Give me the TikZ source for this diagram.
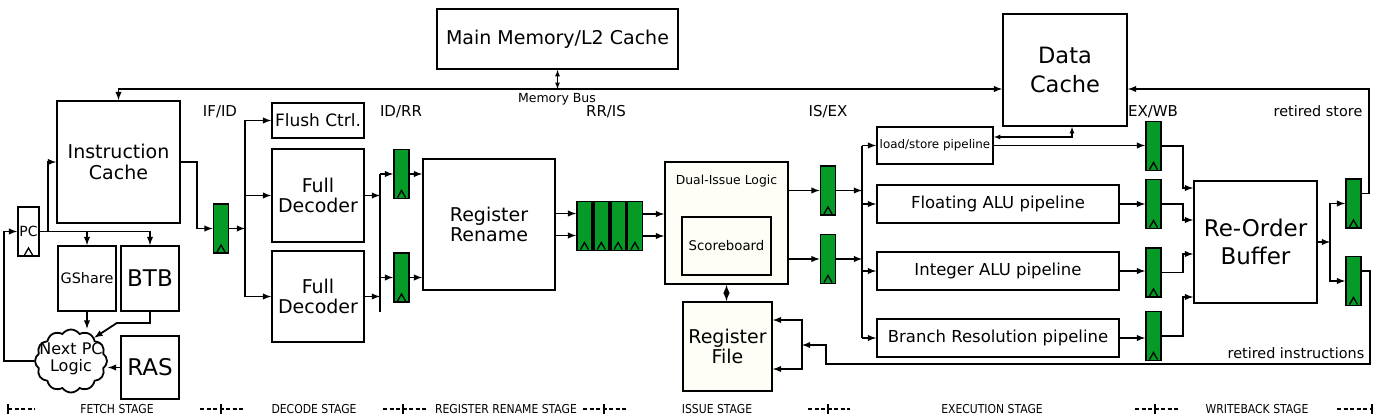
\documentclass[tikz,border=0pt]{standalone}
\usepackage{fontspec}
\setmainfont{DejaVu Sans}
\newfontfamily\stagefont{DejaVu Sans}[FakeStretch=0.88]
\usetikzlibrary{arrows,positioning,shapes.symbols}
\definecolor{latchgreen}{RGB}{6,154,38}
\definecolor{issuefill}{RGB}{254,254,247}

\tikzset{
  block/.style={draw, fill=white, align=center, inner sep=0pt},
  latch/.style={draw, fill=latchgreen, minimum width=15, minimum height=49, inner sep=0pt,
    path picture={\draw[line width=1.3pt]
      ([xshift=-4pt,yshift=1pt]path picture bounding box.south) --
      ([yshift=8pt]path picture bounding box.south) --
      ([xshift=4pt,yshift=1pt]path picture bounding box.south);}},
  pipe/.style={block, minimum width=242, minimum height=38, font=\fontsize{16.5}{19}\selectfont},
  txtbig/.style={font=\fontsize{19}{20.5}\selectfont},
  txthuge/.style={font=\fontsize{23}{28}\selectfont},
  txtreg/.style={font=\fontsize{15}{18}\selectfont},
  txtnote/.style={font=\fontsize{14.4}{17}\selectfont},
  stagetxt/.style={font=\stagefont\fontsize{12.3}{14}\selectfont},
  stagedash/.style={line width=1.3pt, dash pattern=on 4pt off 2.5pt},
}

\begin{document}
\begin{tikzpicture}[x=1pt, y=-1pt, >=latex, line width=1.8pt]
\useasboundingbox (0,0) rectangle (1379,420);

% memory side
\node[block, txtbig, minimum width=241, minimum height=60] (mem) at (557.5,39) {Main Memory/L2 Cache};
\node[block, font=\fontsize{22.5}{29}\selectfont, minimum width=124, minimum height=112] (dcache) at (1065,70) {Data\\Cache};
\coordinate (bus) at (0,89);

% fetch
\node[block, txtbig, minimum width=123, minimum height=122] (icache) at (118.5,162) {Instruction\\Cache};
\node[latch, fill=white, minimum width=21, font=\fontsize{14}{16}\selectfont] (pc) at (28.5,231.5) {PC};
\node[block, txtnote, minimum width=58, minimum height=65] (gshare) at (87,278.5) {GShare};
\node[block, txthuge, minimum width=58, minimum height=65] (btb) at (150,278.5) {BTB};
\node[block, txthuge, minimum width=58, minimum height=63] (ras) at (150,367.5) {RAS};
\node[cloud, draw, fill=white, cloud puffs=12, cloud puff arc=110, aspect=1.1,
      minimum width=72, minimum height=63, inner sep=0pt, font=\fontsize{16}{17}\selectfont]
      (nextpc) at (71,361) {\makebox[0pt]{\smash{\raisebox{-3pt}{\begin{tabular}{@{}c@{}}Next PC\\Logic\end{tabular}}}}};
\node[latch] (ifid) at (221,228.5) {};

% decode
\node[block, font=\fontsize{17}{19}\selectfont, minimum width=92, minimum height=35] (flush) at (318,120.5) {Flush Ctrl.};
\node[block, txtbig, minimum width=92, minimum height=93] (dec1) at (318,195.5) {Full\\Decoder};
\node[block, txtbig, minimum width=92, minimum height=91] (dec2) at (318,296.5) {Full\\Decoder};
\node[latch] (idrr1) at (401.5,174) {};
\node[latch] (idrr2) at (401.5,277.5) {};

% rename
\node[block, txtbig, minimum width=132, minimum height=131] (rename) at (489,224.5) {Register\\Rename};
\node[latch] (rris1) at (584.5,226) {};
\node[latch, right=0pt of rris1] (rris2) {};
\node[latch, right=0pt of rris2] (rris3) {};
\node[latch, right=0pt of rris3] (rris4) {};

% issue
\node[block, fill=issuefill, minimum width=123, minimum height=122,
      label={[label distance=-27pt, inner sep=0pt, font=\fontsize{12.4}{14}\selectfont]north:Dual-Issue Logic}]
      (dual) at (726.5,223) {};
\node[block, fill=issuefill, font=\fontsize{13.3}{15}\selectfont, minimum width=89, minimum height=58] (score) at (726.5,246) {Scoreboard};
\node[block, fill=issuefill, txtbig, minimum width=89, minimum height=89] (regfile) at (727.5,346.5) {Register\\File};
\node[latch] (isex1) at (828,190.5) {};
\node[latch] (isex2) at (828,259) {};

% execute
\node[block, font=\fontsize{11.9}{14}\selectfont, minimum width=116, minimum height=37] (ls) at (935,145.5) {load/store pipeline};
\node[pipe] (fp) at (998,204) {Floating ALU pipeline};
\node[pipe] (int) at (998,271) {Integer ALU pipeline};
\node[pipe] (br) at (998,338) {Branch Resolution pipeline};
\node[latch] (exwb1) at (1153.5,146) {};
\node[latch] (exwb2) at (1153.5,204) {};
\node[latch] (exwb3) at (1153.5,272.5) {};
\node[latch] (exwb4) at (1153.5,336) {};

% writeback
\node[block, txthuge, minimum width=123, minimum height=122] (rob) at (1255.5,242) {Re-Order\\Buffer};
\node[latch] (wb1) at (1353.5,203.5) {};
\node[latch] (wb2) at (1353.5,281) {};

% pipeline register labels
\node[txtreg] (lifid) at (220,112) {IF/ID};
\node[txtreg] (lidrr) at (401,112) {ID/RR};
\node[txtreg] (lrris) at (606,112) {RR/IS};
\node[txtreg] (lisex) at (828,112) {IS/EX};
\node[txtreg] (lexwb) at (1153,112) {EX/WB};
\node[txtnote] (lstore) at (1318,111) {retired store};
\node[txtnote] (lretire) at (1296,353) {retired instructions};
\node[font=\fontsize{12.5}{14}\selectfont] (lbus) at (557,99) {Memory Bus};

% memory bus
\draw[<->] (icache.north) |- (dcache.west |- bus);
\draw[<->, line width=1.2pt] (mem.south) -- (mem.south |- bus);

% fetch wiring
\draw[->] (pc.east) -- ++(8,0) |- (icache.west);
\draw[->] (pc.east) -| (gshare.north);
\draw[->] (pc.east) -| (btb.north);
\draw[->] (gshare.south) -- (gshare.south |- nextpc.north);
\draw[->] (btb.south) -- ++(0,11) -- ++(-33,0) -- (nextpc.45);
\draw[->] (ras.west) -- (nextpc.east |- ras.west);
\draw[->] (nextpc.west) -- ++(-30,0) |- (pc.west);
\draw[->] (icache.east) -- ++(16,0) |- (ifid.west);

% decode wiring
\coordinate (ifidj) at (245,228.5);
\draw[->] (ifid.east) -- (ifidj);
\draw[->] (ifidj) |- (flush.west);
\draw[->] (ifidj) |- (dec1.west);
\draw[->] (ifidj) |- (dec2.west);
\coordinate (idrrj) at (380,174);
\draw (idrrj) -- (380,312);
\draw[->] (dec1.east) -- (dec1.east -| idrrj);
\draw[->] (dec2.east) -- (dec2.east -| idrrj);
\draw[->] (idrrj) -- (idrr1.west);
\draw[->] (idrrj |- idrr2.west) -- (idrr2.west);
\draw[->] (idrr1.east) -- (idrr1.east -| rename.west);
\draw[->] (idrr2.east) -- (idrr2.east -| rename.west);

% rename / issue wiring
\draw[->] ([yshift=11pt]rename.east) -- ([yshift=11pt]rename.east -| rris1.west);
\draw[->] ([yshift=-11pt]rename.east) -- ([yshift=-11pt]rename.east -| rris1.west);
\draw[->] ([yshift=12pt]rris4.east) -- ([yshift=12pt]rris4.east -| dual.west);
\draw[->] ([yshift=-10pt]rris4.east) -- ([yshift=-10pt]rris4.east -| dual.west);
\draw[<->] (dual.south) -- (dual.south |- regfile.north);
\draw[->] (dual.east |- isex1) -- (isex1.west);
\draw[->] (dual.east |- isex2) -- (isex2.west);

% execute wiring
\coordinate (exj) at (862,190.5);
\draw[->] (isex1.east) -- (exj);
\draw[->] (isex2.east) -- (exj |- isex2.east);
\draw (exj |- ls.west) -- (exj |- br.west);
\draw[->] (exj |- ls.west) -- (ls.west);
\draw[->] (exj |- fp.west) -- (fp.west);
\draw[->] (exj |- int.west) -- (int.west);
\draw[->] (exj |- br.west) -- (br.west);
\draw[<->, line width=1.2pt] ([yshift=8.5pt]ls.east) -| ([xshift=7pt]dcache.south);
\draw[->] (ls.east) -- (ls.east -| exwb1.west);
\draw[->] (fp.east) -- (fp.east -| exwb2.west);
\draw[->] (int.east) -- (int.east -| exwb3.west);
\draw[->] (br.east) -- (br.east -| exwb4.west);

% writeback wiring
\draw[->] (exwb1.east) -- ++(21,0) |- ([yshift=54pt]rob.west);
\draw[->] (exwb2.east) -- ++(21,0) |- ([yshift=22pt]rob.west);
\draw[->] (exwb3.east) -- ++(21,0) |- ([yshift=-12pt]rob.west);
\draw[->] (exwb4.east) -- ++(21,0) |- ([yshift=-55pt]rob.west);
\coordinate (wbj) at (1330,242);
\draw[->] (rob.east) -- (wbj);
\draw[->] (wbj) |- (wb1.west);
\draw[->] (wbj) |- (wb2.west);
\draw[->] ([yshift=10pt]wb1.east) -| (1369,89) -- (dcache.east |- bus);
\coordinate (rfj) at (802,345);
\draw[->] ([yshift=10pt]wb2.east) -| (1370,364) -| (826,345) -- (rfj);
\draw[<->] (regfile.east |- 0,320) -| (rfj) |- (regfile.east |- 0,369);

% stage bar
\foreach \xa/\xb/\xt in {8/35/8, 200/243/221, 383/426/403, 583/628/604, 808/850/828, 1135/1178/1155, 1337/1373/1372}{
  \draw[stagedash] (\xa,409) -- (\xb,409);
  \draw[line width=1.2pt] (\xt,404) -- (\xt,414);
}
\node[stagetxt] (sfetch) at (117,409) {FETCH STAGE};
\node[stagetxt] (sdecode) at (314,409) {DECODE STAGE};
\node[stagetxt] (srename) at (506,409) {REGISTER RENAME STAGE};
\node[stagetxt] (sissue) at (717,409) {ISSUE STAGE};
\node[stagetxt] (sexec) at (992,409) {EXECUTION STAGE};
\node[stagetxt] (swb) at (1257,409) {WRITEBACK STAGE};
\end{tikzpicture}
\end{document}
